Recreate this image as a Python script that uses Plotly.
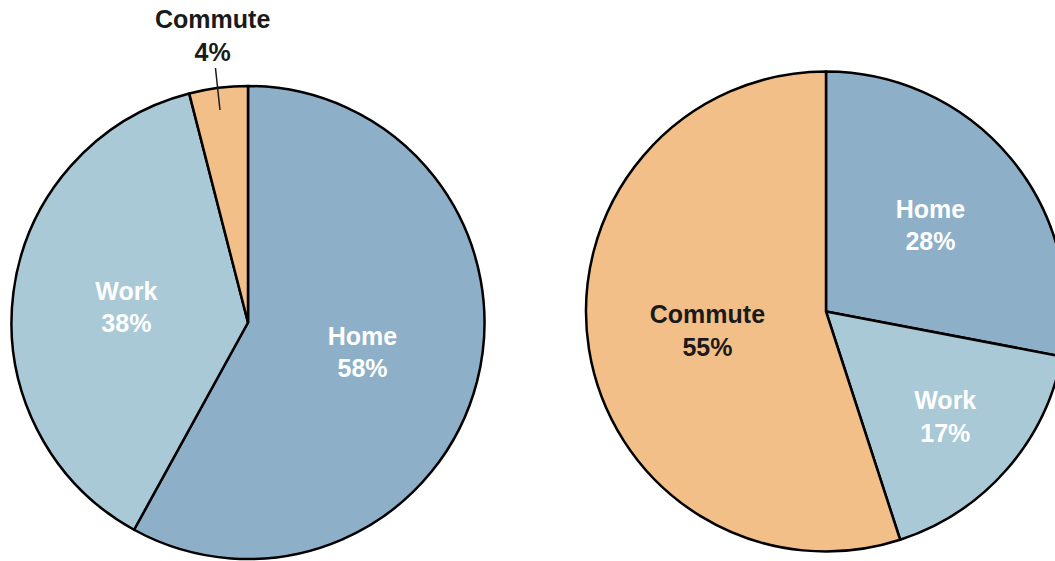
import plotly.graph_objects as go

# Data
labels_left = ["Home", "Work", "Commute"]
values_left = [58, 38, 4]
labels_right = ["Home", "Work", "Commute"]
values_right = [28, 17, 55]

colors = {"Home": "#8DAFC8", "Work": "#A9C9D7", "Commute": "#F3BF88"}
text_colors = {"Home": "white", "Work": "white", "Commute": "#1a1a1a"}

W, H = 1070, 561
FONT = "Arial, Liberation Sans, Helvetica, sans-serif"
FS = 25

def dom(cx, cy, r):
    return dict(x=[(cx - r) / W, (cx + r) / W], y=[1 - (cy + r) / H, 1 - (cy - r) / H])

fig = go.Figure()
fig.add_trace(go.Pie(
    labels=labels_left, values=values_left, sort=False, direction="clockwise", rotation=0,
    marker=dict(colors=[colors[l] for l in labels_left], line=dict(color="black", width=2.5)),
    texttemplate="%{label}<br>%{value}%",
    textposition=["inside", "inside", "none"],
    insidetextorientation="horizontal",
    textfont=dict(family=FONT, size=FS, weight="bold", color=[text_colors[l] for l in labels_left]),
    domain=dom(248, 322.5, 236.5), showlegend=False, hoverinfo="label+percent",
))
fig.add_trace(go.Pie(
    labels=labels_right, values=values_right, sort=False, direction="clockwise", rotation=0,
    marker=dict(colors=[colors[l] for l in labels_right], line=dict(color="black", width=2.5)),
    texttemplate="%{label}<br>%{value}%",
    textposition="inside",
    insidetextorientation="horizontal",
    textfont=dict(family=FONT, size=FS, weight="bold", color=[text_colors[l] for l in labels_right]),
    domain=dom(826, 311.5, 240), showlegend=False, hoverinfo="label+percent",
))

fig.add_annotation(
    x=220 / W, y=1 - 110 / H, xref="paper", yref="paper",
    text=f"{labels_left[2]}<br>{values_left[2]}%",
    showarrow=True, arrowhead=0, arrowwidth=1.5, arrowcolor="#1a1a1a", standoff=0,
    ax=-8, ay=-74,
    font=dict(family=FONT, size=FS, weight="bold", color="#1a1a1a"),
)

fig.update_layout(
    width=W, height=H, margin=dict(l=0, r=0, t=0, b=0),
    paper_bgcolor="white", plot_bgcolor="white",
)

fig.write_html("out.html", config={"displayModeBar": False},
               post_script="document.body.style.margin='0';document.body.style.overflow='hidden';")
